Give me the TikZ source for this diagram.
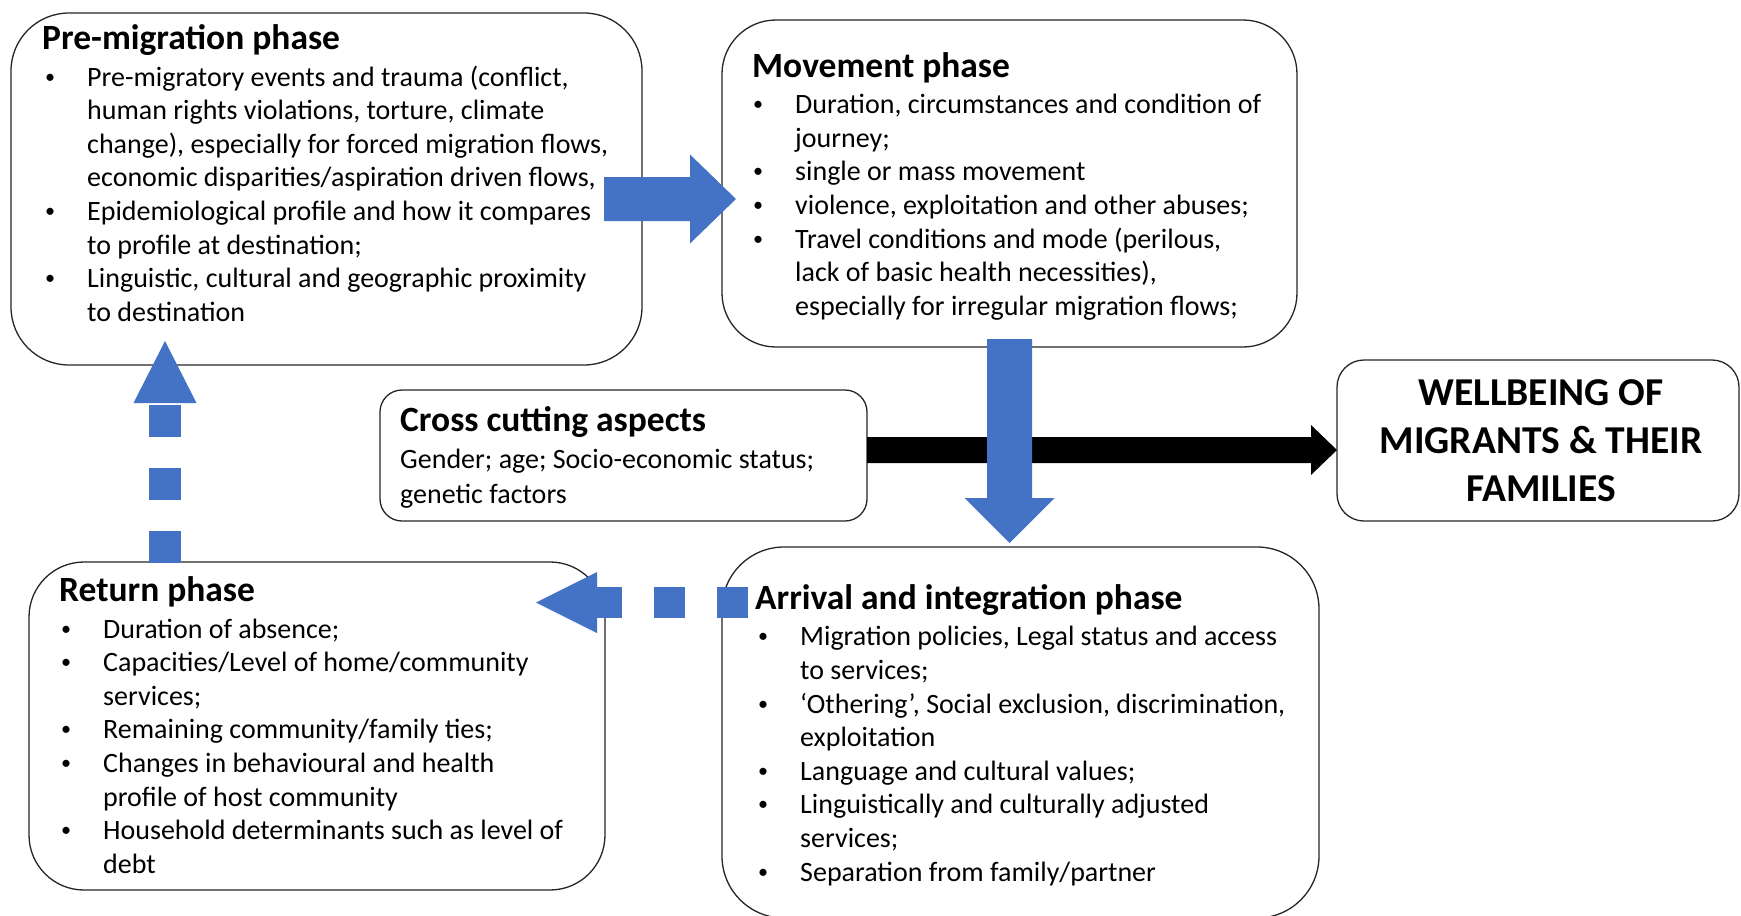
\documentclass[tikz,border=0pt]{standalone}
\usepackage{graphicx}
\usepackage{fontspec}
\setmainfont{Carlito}
\usetikzlibrary{calc}
\definecolor{arrowblue}{HTML}{4472C4}
\definecolor{edgecol}{HTML}{262626}
\newcommand{\smallbullet}{\hspace*{-2pt}\raisebox{3pt}{\scalebox{0.72}{\textbullet}}}
\newcommand{\bitem}[1]{\makebox[40pt][l]{\smallbullet}#1}
\newcommand{\bcont}[1]{\hspace*{40pt}#1}
\begin{document}
\begin{tikzpicture}[x=1pt,y=-1pt,
  phasebox/.style={draw=edgecol, line width=1.3pt, fill=white, inner sep=0pt},
  titletext/.style={anchor=base west, inner sep=0pt, font=\fontsize{35.5pt}{42pt}\selectfont\bfseries},
  bodytext/.style={anchor=base west, inner sep=0pt, align=left, font=\fontsize{28pt}{33.6pt}\selectfont},
]
\useasboundingbox (0,0) rectangle (1741,916);
\fill[white] (0,0) rectangle (1741,916);

% boxes
\node[phasebox, rounded corners=58pt, minimum width=631pt, minimum height=352pt] (pre) at (326.5,189) {};
\node[phasebox, rounded corners=54pt, minimum width=575pt, minimum height=327pt] (mov) at (1009.5,183.5) {};
\node[phasebox, rounded corners=22pt, minimum width=487pt, minimum height=131pt] (cross) at (623.5,455.5) {};
\node[phasebox, rounded corners=27pt, minimum width=402pt, minimum height=161pt] (well) at (1538,440.5) {};
\node[phasebox, rounded corners=55pt, minimum width=576pt, minimum height=328pt] (ret) at (317,726) {};
\node[phasebox, rounded corners=62pt, minimum width=597pt, minimum height=371pt] (arr) at (1020.5,732.5) {};

% texts (base anchor of a multi-line node = baseline of its last line)
\node[titletext] (pretitle) at (42,49.5) {Pre-migration phase};
\node[bodytext] (prebody) at (47,321.2) {\bitem{Pre-migratory events and trauma (conflict,}\\
\bcont{human rights violations, torture, climate}\\
\bcont{change), especially for forced migration flows,}\\
\bcont{economic disparities/aspiration driven flows,}\\
\bitem{Epidemiological profile and how it compares}\\
\bcont{to profile at destination;}\\
\bitem{Linguistic, cultural and geographic proximity}\\
\bcont{to destination}};

\node[titletext] (movtitle) at (752,77) {Movement phase};
\node[bodytext] (movbody) at (755,315.3) {\bitem{Duration, circumstances and condition of}\\
\bcont{journey;}\\
\bitem{single or mass movement}\\
\bitem{violence, exploitation and other abuses;}\\
\bitem{Travel conditions and mode (perilous,}\\
\bcont{lack of basic health necessities),}\\
\bcont{especially for irregular migration flows;}};

\node[titletext] (crosstitle) at (400,431.5) {Cross cutting aspects};
\node[bodytext, font=\fontsize{28pt}{35pt}\selectfont] (crossbody) at (400,503) {Gender; age; Socio-economic status;\\genetic factors};

\node[anchor=base, inner sep=0pt, align=center, font=\fontsize{39.5pt}{48pt}\selectfont\bfseries] (welltext) at (1541,501.5) {WELLBEING OF\\MIGRANTS \& THEIR\\FAMILIES};

\node[titletext] (rettitle) at (59,601) {Return phase};
\node[bodytext] (retbody) at (63,873.2) {\bitem{Duration of absence;}\\
\bitem{Capacities/Level of home/community}\\
\bcont{services;}\\
\bitem{Remaining community/family ties;}\\
\bitem{Changes in behavioural and health}\\
\bcont{profile of host community}\\
\bitem{Household determinants such as level of}\\
\bcont{debt}};

\node[titletext] (arrtitle) at (755,609) {Arrival and integration phase};
\node[bodytext] (arrbody) at (760,881) {\bitem{Migration policies, Legal status and access}\\
\bcont{to services;}\\
\bitem{‘Othering’, Social exclusion, discrimination,}\\
\bcont{exploitation}\\
\bitem{Language and cultural values;}\\
\bitem{Linguistically and culturally adjusted}\\
\bcont{services;}\\
\bitem{Separation from family/partner}};

% connector end points
\coordinate (ra1) at (604,199);
\coordinate (ra2) at (736,199);
\coordinate (da1) at (1009.5,339);
\coordinate (da2) at (1009.5,543);
\coordinate (ua1) at (165,563);
\coordinate (ua2) at (165,341);
\coordinate (la1) at (748,602.5);
\coordinate (la2) at (536,602.5);
\coordinate (ba1) at (867,450);
\coordinate (ba2) at (1337,450);

% black arrow: cross cutting -> wellbeing
\fill[black] ($(ba1)+(0,-13)$) -- ($(ba2)+(-26,-13)$) -- ($(ba2)+(-26,-25)$) -- (ba2)
  -- ($(ba2)+(-26,25)$) -- ($(ba2)+(-26,13)$) -- ($(ba1)+(0,13)$) -- cycle;

% pre -> movement
\fill[arrowblue] ($(ra1)+(0,-22)$) -- ($(ra2)+(-46,-22)$) -- ($(ra2)+(-46,-44.5)$) -- (ra2)
  -- ($(ra2)+(-46,44.5)$) -- ($(ra2)+(-46,22)$) -- ($(ra1)+(0,22)$) -- cycle;

% movement -> arrival
\fill[arrowblue] ($(da1)+(-22.5,0)$) -- ($(da2)+(-22.5,-45)$) -- ($(da2)+(-45,-45)$) -- (da2)
  -- ($(da2)+(45,-45)$) -- ($(da2)+(22.5,-45)$) -- ($(da1)+(22.5,0)$) -- cycle;

% return -> pre (dashed)
\draw[arrowblue, line width=32pt, dash pattern=on 32pt off 31pt] (ua1) -- ($(ua2)+(0,62)$);
\fill[arrowblue] ($(ua2)+(-31.5,62)$) -- (ua2) -- ($(ua2)+(31.5,62)$) -- cycle;

% arrival -> return (dashed)
\draw[arrowblue, line width=31pt, dash pattern=on 31pt off 32pt] (la1) -- ($(la2)+(61,0)$);
\fill[arrowblue] ($(la2)+(61,-30.5)$) -- (la2) -- ($(la2)+(61,30.5)$) -- cycle;
\end{tikzpicture}
\end{document}
